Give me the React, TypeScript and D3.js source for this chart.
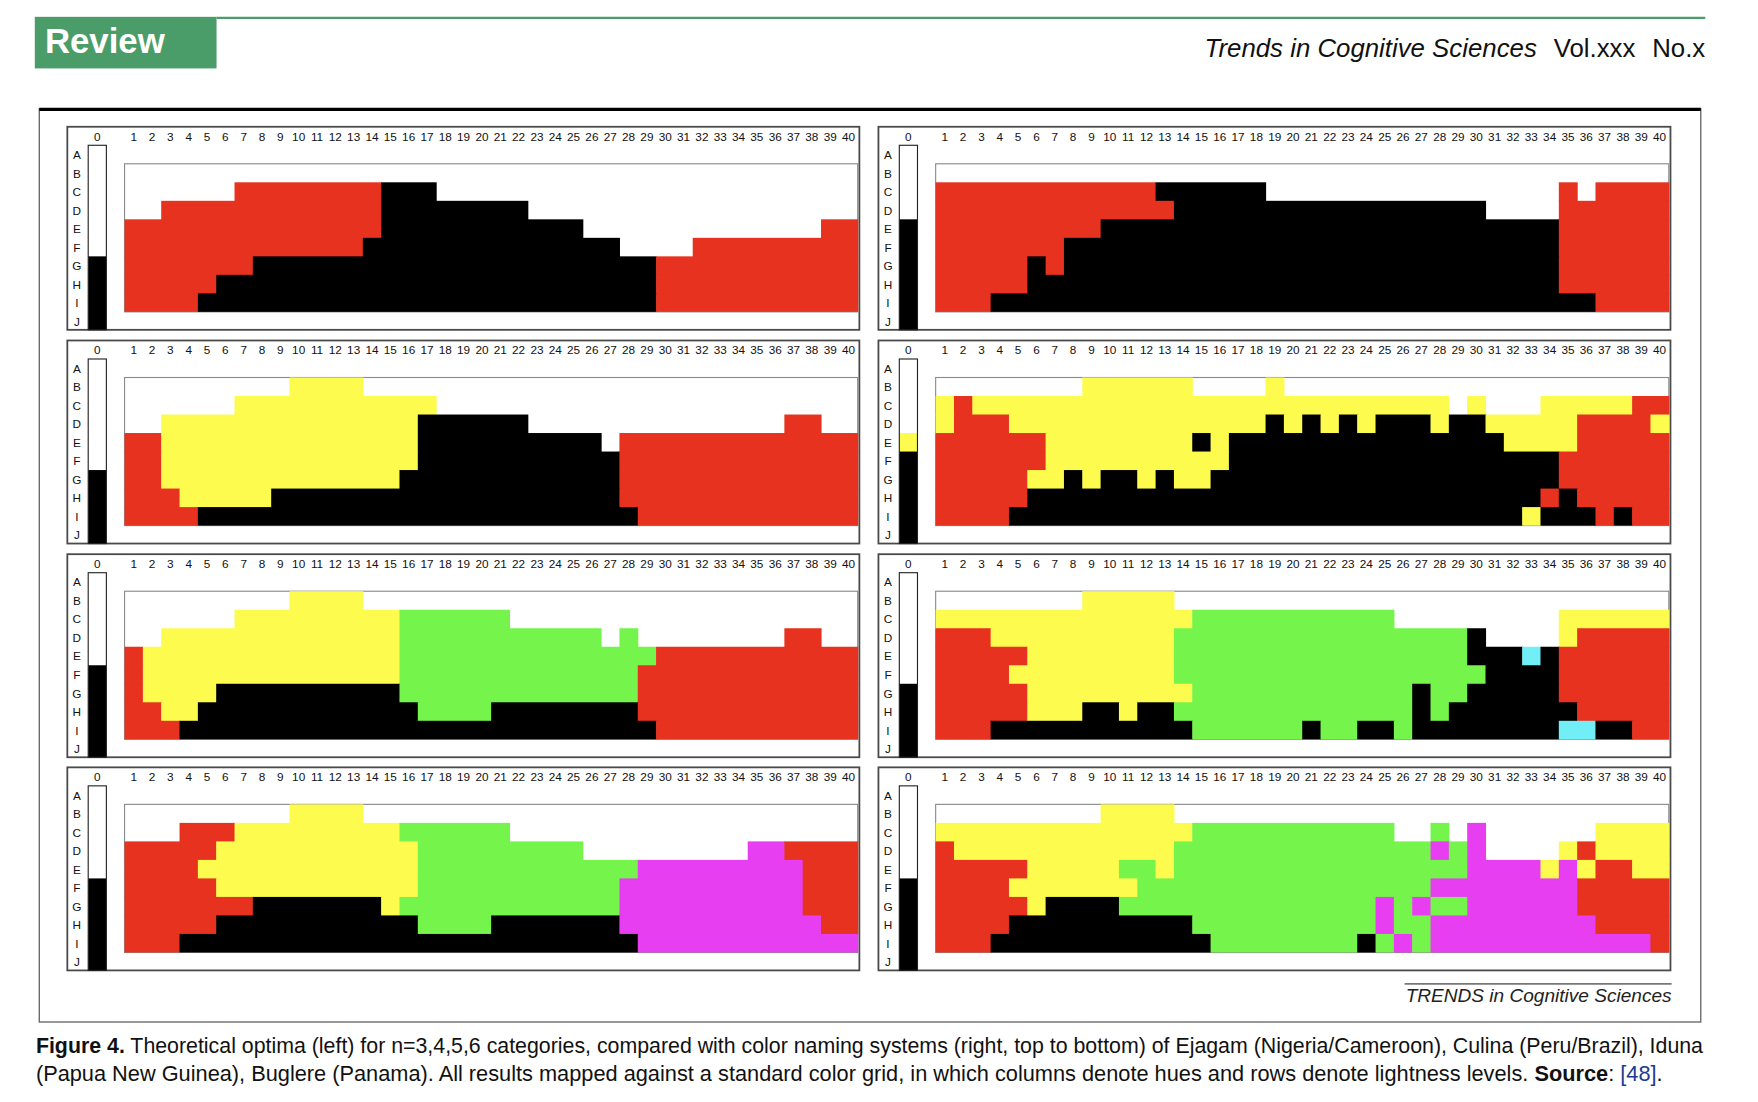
import * as d3 from "d3";

// hue columns 1..40, lightness rows A..J (chromatic grid uses B..I)
const hueColumns = d3.range(1, 41);
const lightnessRows = ["A", "B", "C", "D", "E", "F", "G", "H", "I", "J"];
const gridRows = lightnessRows.slice(1, 9);

const categoryCodes = ["W", "K", "R", "Y", "G", "M", "C"];
const categoryFills = ["#ffffff", "#000000", "#e6321f", "#fdfb4d", "#75f54c", "#e63ef0", "#72eff6"];

// each grid row (B..I) is run-length coded: count + category
const optimum3 = ["40W", "6W8R3K23W", "2W12R8K18W", "14R11K13W2R", "13R14K4W9R", "7R22K11R", "5R24K11R", "4R25K11R"];
const optimum3Achromatic = "6W4K";

const ejagam = ["40W", "12R6K16W1R1W4R", "13R17K4W6R", "9R25K6R", "7R27K6R", "5R1K1R27K6R", "5R29K6R", "3R33K4R"];
const ejagamAchromatic = "4W6K";

const optimum4 = ["9W4Y27W", "6W11Y23W", "2W14Y6K14W2R2W", "2R14Y10K1W13R", "2R14Y11K13R", "2R13Y12K13R", "3R5Y19K13R", "4R24K12R"];
const optimum4Achromatic = "6W4K";

const culina = [
  "8W6Y4W1Y21W",
  "1Y1R26Y1W1Y3W5Y2R",
  "1Y3R14Y1K1Y1K1Y1K1Y3K1Y2K5Y4R1Y",
  "6R8Y1K1Y15K4Y5R",
  "6R10Y18K6R",
  "5R2Y1K1Y2K1Y1K2Y19K6R",
  "5R28K1R1K5R",
  "4R28K1Y3K1R1K2R",
];
const culinaAchromatic = "4W1Y5K";

const optimum5 = ["9W4Y27W", "6W9Y6G19W", "2W13Y11G1W1G8W2R2W", "1R14Y14G11R", "1R14Y13G12R", "1R4Y10K13G12R", "2R2Y12K4G8K12R", "3R26K11R"];
const optimum5Achromatic = "5W5K";

const iduna = [
  "8W5Y27W",
  "14Y11G9W6Y",
  "3R10Y16G1K4W1Y5R",
  "5R8Y16G3K1C1K6R",
  "4R9Y17G4K6R",
  "5R9Y12G1K2G5K6R",
  "5R3Y2K1Y2K13G1K1G7K5R",
  "3R11K6G1K2G2K1G8K2C2K2R",
];
const idunaAchromatic = "6W4K";

const optimum6 = ["9W4Y27W", "3W3R9Y6G19W", "5R11Y9G9W2M4R", "4R12Y12G9M3R", "5R11Y11G10M3R", "7R7K1Y12G10M3R", "5R11K4G7K11M2R", "3R25K12M"];
const optimum6Achromatic = "5W5K";

const buglere = [
  "9W4Y27W",
  "14Y11G2W1G1W1M6W4Y",
  "1R12Y14G1M1G1M4W1Y1R4Y",
  "5R5Y2G1Y16G4M1Y1M1Y2R2Y",
  "4R7Y16G8M5R",
  "5R1Y4K14G1M1G1M2G6M5R",
  "4R10K10G1M2G9M4R",
  "3R12K8G1K1G1M1G12M1R",
];
const buglereAchromatic = "5W5K";

const leftGrids = [optimum3, optimum4, optimum5, optimum6];
const leftAchromatic = [optimum3Achromatic, optimum4Achromatic, optimum5Achromatic, optimum6Achromatic];
const rightGrids = [ejagam, culina, iduna, buglere];
const rightAchromatic = [ejagamAchromatic, culinaAchromatic, idunaAchromatic, buglereAchromatic];

// run-length string -> list of runs with start column index
const runs = (s: string) => {
  let start = 0;
  return Array.from(s.matchAll(/(\d+)([A-Z])/g)).map((m) => {
    const r = { start, count: +m[1], code: m[2] };
    start += r.count;
    return r;
  });
};

const fill = d3.scaleOrdinal<string, string>().domain(categoryCodes).range(categoryFills);

const FONT = "'Liberation Sans', Arial, Helvetica, sans-serif";
const PANEL_W = 706;
const PANEL_H = 181;

const x = d3.scaleBand<number>().domain(hueColumns).range([51, 704.5]);
const y = d3.scaleBand<string>().domain(lightnessRows).range([16.5, 181.5]);
const bar = { x0: 18.6, x1: 34.8 };

function Panel({ left, top, grid, achromatic }: { left: number; top: number; grid: string[]; achromatic: string }) {
  const bw = x.bandwidth();
  const bh = y.bandwidth();
  const boxTop = y("B")!;
  const boxBottom = y("I")! + bh;
  const segments = grid.flatMap((row, ri) =>
    runs(row).map((r) => ({ ...r, row: gridRows[ri], ri }))
  );
  const greys = runs(achromatic);
  return (
    <g transform={`translate(${left},${top})`}>
      <rect x={0} y={0} width={PANEL_W} height={PANEL_H} fill="#fff" stroke="#4a4a4a" strokeWidth={1.6} />
      <rect x={x(1)} y={boxTop} width={x(40)! + bw - x(1)!} height={boxBottom - boxTop} fill="#fff" stroke="#8a8a8a" strokeWidth={1} />
      {segments
        .filter((s) => s.code !== "W")
        .map((s, i) => {
          const x0 = x(hueColumns[s.start])!;
          const x1 = x(hueColumns[s.start + s.count - 1])! + bw;
          return (
            <rect key={i} x={x0} y={y(s.row)} width={x1 - x0 + 0.5} height={bh + (s.ri < 7 ? 0.8 : 0)} fill={fill(s.code)} />
          );
        })}
      {greys.map((g, i) => {
        const y0 = y(lightnessRows[g.start])!;
        const y1 = y(lightnessRows[g.start + g.count - 1])! + bh;
        return <rect key={`g${i}`} x={bar.x0} y={y0} width={bar.x1 - bar.x0} height={Math.min(y1, PANEL_H) - y0} fill={fill(g.code)} />;
      })}
      <rect x={bar.x0} y={y("A")} width={bar.x1 - bar.x0} height={PANEL_H - y("A")!} fill="none" stroke="#222" strokeWidth={1} />
      <g fontFamily={FONT} fontSize={10.5} fill="#111" textAnchor="middle">
        <text x={(bar.x0 + bar.x1) / 2} y={12.5}>0</text>
        {hueColumns.map((c) => (
          <text key={c} x={x(c)! + bw / 2} y={12.5}>{c}</text>
        ))}
        {lightnessRows.map((r) => (
          <text key={r} x={8.5} y={y(r)! + bh / 2 + 4}>{r}</text>
        ))}
      </g>
    </g>
  );
}

const panelTops = [113, 303.5, 494, 684];

export default function App() {
  return (
    <div style={{ position: "absolute", left: 0, top: 0 }}>
      <svg width={1758} height={1102} viewBox="0 0 1567 982.3" style={{ display: "block", background: "#fff" }}>
        {/* header */}
        <line x1={193} x2={1520} y1={16} y2={16} stroke="#4b9d6b" strokeWidth={2} />
        <rect x={31} y={15} width={162} height={46} fill="#4a9d69" />
        <text x={40} y={47} fontFamily={FONT} fontWeight="bold" fontSize={31} fill="#fff">Review</text>
        <text x={1520} y={51} textAnchor="end" fontFamily={FONT} fontSize={23} fill="#111">
          <tspan fontStyle="italic">Trends in Cognitive Sciences</tspan>
          <tspan dx={15}>Vol.xxx</tspan>
          <tspan dx={15}>No.x</tspan>
        </text>

        {/* figure box */}
        <rect x={35} y={97} width={1481} height={814} fill="#fff" stroke="#666" strokeWidth={1.2} />
        <line x1={35} x2={1516} y1={97.5} y2={97.5} stroke="#000" strokeWidth={3} />

        {panelTops.map((t, i) => (
          <g key={i}>
            <Panel left={60} top={t} grid={leftGrids[i]} achromatic={leftAchromatic[i]} />
            <Panel left={783} top={t} grid={rightGrids[i]} achromatic={rightAchromatic[i]} />
          </g>
        ))}

        <line x1={1252} x2={1490} y1={877} y2={877} stroke="#777" strokeWidth={1.6} />
        <text x={1490} y={893} textAnchor="end" fontFamily={FONT} fontStyle="italic" fontSize={17} fill="#222">
          TRENDS in Cognitive Sciences
        </text>

        {/* caption */}
        <text x={32} y={939} fontFamily={FONT} fontSize={19} fill="#111" textLength={1486} lengthAdjust="spacingAndGlyphs">
          <tspan fontWeight="bold">Figure 4.</tspan>
          <tspan>{"  Theoretical optima (left) for n=3,4,5,6 categories, compared with color naming systems (right, top to bottom) of Ejagam (Nigeria/Cameroon), Culina (Peru/Brazil), Iduna"}</tspan>
        </text>
        <text x={32} y={964} fontFamily={FONT} fontSize={19} fill="#111" textLength={1450} lengthAdjust="spacingAndGlyphs">
          <tspan>(Papua New Guinea), Buglere (Panama). All results mapped against a standard color grid, in which columns denote hues and rows denote lightness levels. </tspan>
          <tspan fontWeight="bold">Source</tspan>
          <tspan>: </tspan>
          <tspan fill="#1c3b92">[48]</tspan>
          <tspan>.</tspan>
        </text>
      </svg>
    </div>
  );
}
